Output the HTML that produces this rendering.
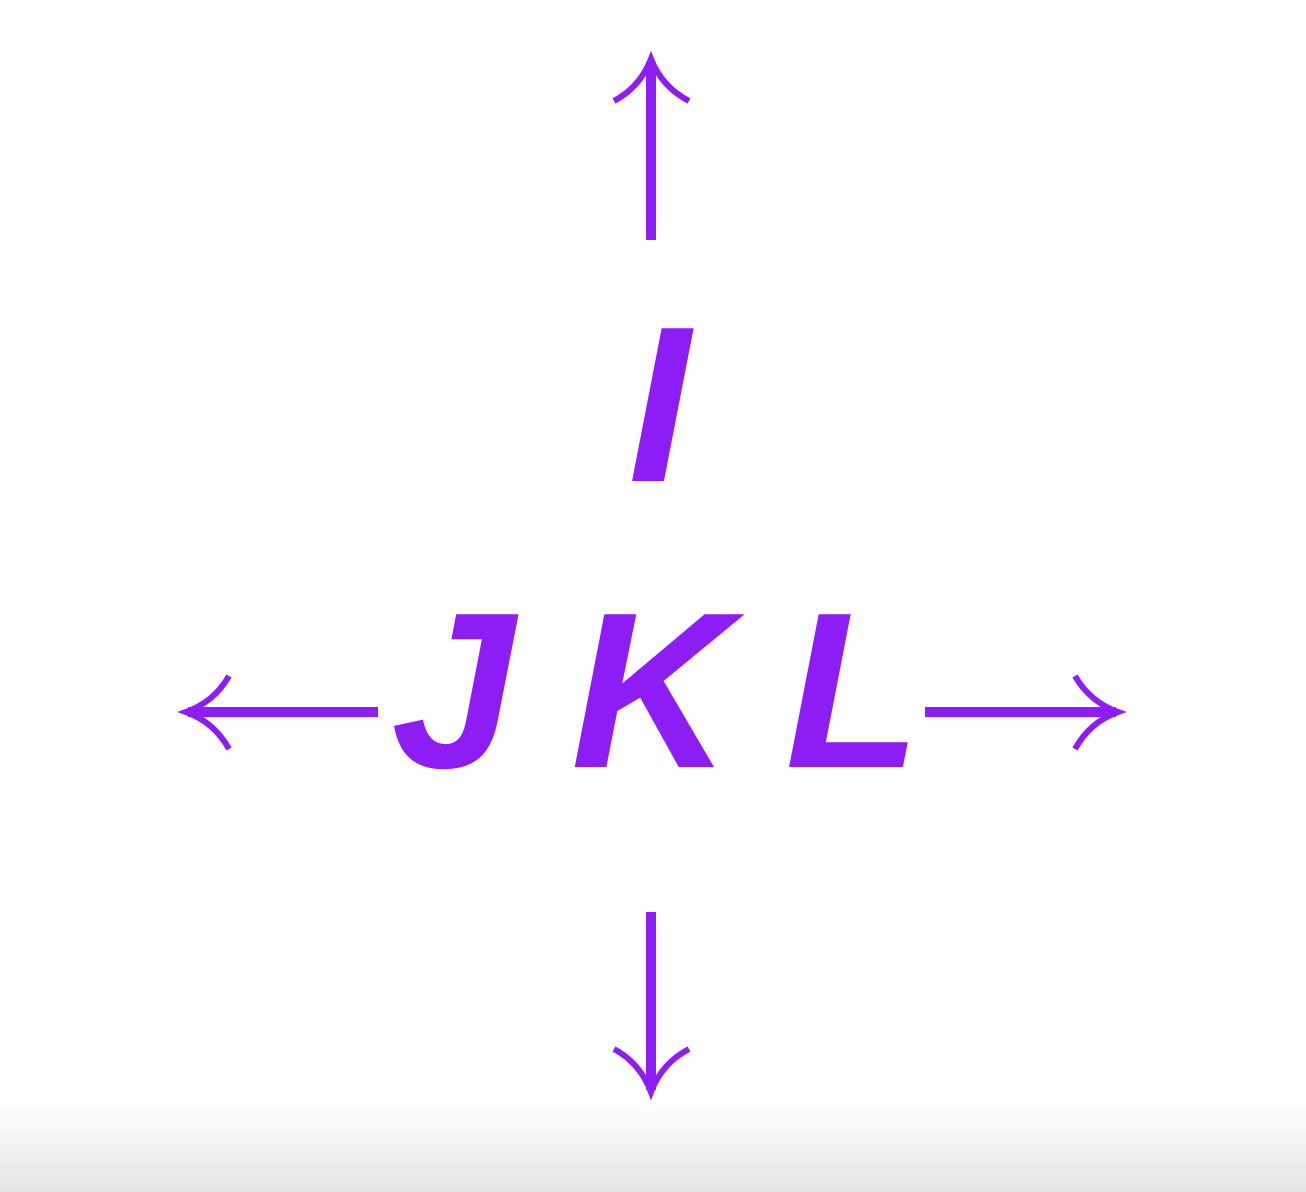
<!DOCTYPE html>
<html><head><meta charset="utf-8"><style>
html,body{margin:0;padding:0;width:1306px;height:1192px;overflow:hidden;background:#fff}
</style></head><body>
<svg width="1306" height="1192" viewBox="0 0 1306 1192">
<defs><linearGradient id="g" x1="0" y1="0" x2="0" y2="1"><stop offset="0" stop-color="#fff"/><stop offset="1" stop-color="#e4e4e4"/></linearGradient></defs>
<rect x="0" y="1105" width="1306" height="87" fill="url(#g)"/>
<g fill="#8e1cf5" font-family="Liberation Sans, sans-serif" font-weight="bold" font-style="italic" font-size="222" text-anchor="middle">
<text x="659" y="481">I</text>
<text x="453" y="767">J</text>
<text x="651" y="767">K</text>
<text x="853" y="767">L</text>
</g>
<g stroke="#8e1cf5" fill="none" stroke-width="10">
<line x1="651" y1="240" x2="651" y2="62"/>
<line x1="651" y1="912" x2="651" y2="1090"/>
<line x1="378" y1="712" x2="188" y2="712"/>
<line x1="925" y1="712" x2="1116" y2="712"/>
</g>
<g stroke="#8e1cf5" fill="none" stroke-width="6">
<path d="M614,101 Q640,87 651,59 Q662,87 689,101"/>
<path d="M614,1049 Q640,1063 651,1092 Q662,1063 689,1049"/>
<path d="M229,676 Q214,702 186,712 Q214,722 229,749"/>
<path d="M1075,676 Q1090,702 1118,712 Q1090,722 1075,749"/>
</g>
</svg>
</body></html>
